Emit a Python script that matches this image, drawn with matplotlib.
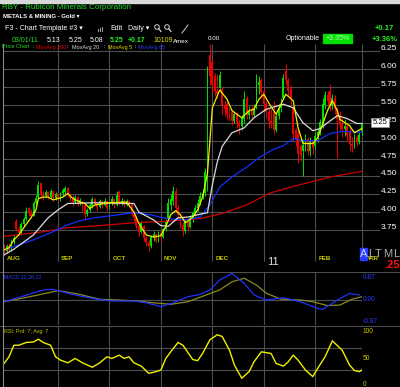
import numpy as np
import matplotlib
matplotlib.use('Agg')
import matplotlib.pyplot as plt
from matplotlib.patches import Rectangle, Circle
from matplotlib.lines import Line2D
from matplotlib.transforms import IdentityTransform

plt.rcParams['font.family'] = ['Liberation Sans', 'DejaVu Sans']

# daily bars, index 0 = first Aug 2010 session, 146 = 03/01/11
opens = [3.50, 3.45, 3.52, 3.47, 3.58, 3.88, 3.76, 3.70, 3.83, 3.90,
         4.05, 3.98, 3.95, 4.12, 4.21, 4.40, 4.24, 4.22, 4.28, 4.21,
         4.29, 4.19, 4.25, 4.18, 4.26, 4.28, 4.34, 4.25, 4.19, 4.14,
         4.21, 4.12, 4.15, 4.10, 3.97, 4.03, 4.08, 4.18, 4.11, 4.07,
         4.15, 4.10, 4.15, 4.06, 4.13, 4.18, 4.10, 4.28, 4.13, 4.16,
         4.10, 4.15, 4.12, 4.00, 3.92, 3.80, 3.72, 3.80, 3.63, 3.57,
         3.52, 3.65, 3.69, 3.60, 3.70, 3.65, 3.76, 3.90, 4.10, 4.15,
         4.30, 4.06, 3.96, 3.82, 3.73, 3.86, 3.79, 3.91, 3.98, 4.06,
         4.13, 4.22, 4.27, 4.56, 6.20, 6.10, 5.90, 5.70, 5.74, 5.72,
         5.48, 5.52, 5.38, 5.40, 5.28, 5.38, 5.25, 5.20, 5.30, 5.60,
         5.36, 5.45, 5.36, 5.46, 5.78, 5.85, 5.70, 5.52, 5.40, 5.28,
         5.40, 5.15, 5.35, 5.46, 5.60, 5.98, 5.85, 5.72, 5.46, 5.15,
         5.10, 4.92, 4.86, 4.94, 5.02, 4.86, 4.98, 4.92, 5.06, 5.12,
         5.22, 5.50, 5.64, 5.70, 5.48, 5.60, 5.44, 5.36, 5.25, 5.16,
         5.20, 5.12, 4.96, 4.92, 5.05, 4.98, 5.13]
highs = [3.55, 3.55, 3.56, 3.62, 3.68, 3.90, 3.80, 3.86, 3.93, 4.07,
         4.07, 4.04, 4.15, 4.24, 4.43, 4.42, 4.30, 4.31, 4.30, 4.32,
         4.30, 4.28, 4.27, 4.28, 4.33, 4.37, 4.35, 4.27, 4.24, 4.24,
         4.22, 4.20, 4.16, 4.12, 4.06, 4.13, 4.21, 4.20, 4.14, 4.18,
         4.17, 4.19, 4.16, 4.16, 4.22, 4.20, 4.30, 4.31, 4.19, 4.18,
         4.18, 4.17, 4.13, 4.02, 3.95, 3.84, 3.88, 3.82, 3.66, 3.62,
         3.68, 3.74, 3.71, 3.73, 3.73, 3.78, 3.90, 4.20, 4.25, 4.37,
         4.33, 4.10, 3.99, 3.86, 3.90, 3.90, 3.95, 4.02, 4.10, 4.18,
         4.28, 4.32, 4.62, 6.05, 6.35, 6.15, 5.95, 5.93, 5.97, 5.75,
         5.56, 5.55, 5.46, 5.44, 5.42, 5.40, 5.30, 5.36, 5.69, 5.62,
         5.48, 5.50, 5.52, 5.93, 5.90, 5.88, 5.72, 5.55, 5.46, 5.45,
         5.56, 5.40, 5.52, 5.60, 5.94, 6.07, 5.88, 5.78, 5.48, 5.18,
         5.18, 4.96, 5.02, 5.10, 5.05, 5.05, 5.02, 5.12, 5.16, 5.30,
         5.60, 5.70, 5.70, 5.79, 5.66, 5.64, 5.47, 5.42, 5.32, 5.30,
         5.22, 5.18, 5.05, 5.10, 5.08, 5.12, 5.25]
lows = [3.40, 3.42, 3.44, 3.46, 3.55, 3.74, 3.66, 3.68, 3.80, 3.88,
        3.95, 3.92, 3.94, 4.08, 4.20, 4.20, 4.17, 4.20, 4.18, 4.19,
        4.16, 4.17, 4.15, 4.16, 4.22, 4.25, 4.22, 4.15, 4.08, 4.12,
        4.08, 4.10, 4.02, 3.89, 3.95, 4.00, 4.05, 4.08, 4.02, 4.05,
        4.06, 4.08, 4.02, 4.04, 4.10, 4.06, 4.08, 4.10, 4.10, 4.07,
        4.08, 4.08, 3.95, 3.88, 3.76, 3.66, 3.70, 3.60, 3.52, 3.45,
        3.50, 3.60, 3.56, 3.58, 3.60, 3.63, 3.74, 3.88, 4.03, 4.10,
        4.02, 3.92, 3.78, 3.67, 3.70, 3.74, 3.77, 3.86, 3.95, 4.02,
        4.10, 4.18, 4.22, 4.30, 5.78, 5.68, 5.62, 5.60, 5.72, 5.37,
        5.35, 5.30, 5.28, 5.22, 5.25, 5.18, 5.10, 5.15, 5.25, 5.30,
        5.30, 5.30, 5.33, 5.44, 5.66, 5.60, 5.45, 5.32, 5.18, 5.18,
        5.10, 5.12, 5.30, 5.40, 5.58, 5.80, 5.62, 5.50, 5.00, 4.92,
        4.68, 4.72, 4.51, 4.85, 4.80, 4.78, 4.82, 4.88, 4.98, 5.08,
        5.18, 5.45, 5.48, 5.42, 5.44, 5.38, 4.76, 5.15, 5.05, 5.06,
        5.00, 4.86, 4.84, 4.90, 4.92, 4.95, 5.08]
closes = [3.45, 3.52, 3.47, 3.58, 3.64, 3.76, 3.70, 3.83, 3.90, 4.02,
          3.98, 3.95, 4.12, 4.20, 4.38, 4.24, 4.22, 4.28, 4.21, 4.29,
          4.19, 4.25, 4.18, 4.26, 4.31, 4.34, 4.25, 4.19, 4.14, 4.21,
          4.12, 4.17, 4.06, 3.97, 4.03, 4.10, 4.18, 4.11, 4.07, 4.15,
          4.10, 4.15, 4.06, 4.13, 4.18, 4.10, 4.24, 4.13, 4.16, 4.10,
          4.15, 4.12, 4.00, 3.92, 3.80, 3.72, 3.84, 3.63, 3.57, 3.52,
          3.65, 3.69, 3.60, 3.70, 3.65, 3.76, 3.86, 4.12, 4.18, 4.30,
          4.06, 3.96, 3.82, 3.73, 3.86, 3.79, 3.91, 3.98, 4.06, 4.13,
          4.22, 4.27, 4.56, 6.00, 5.90, 5.78, 5.70, 5.66, 5.92, 5.48,
          5.45, 5.38, 5.34, 5.28, 5.38, 5.25, 5.20, 5.32, 5.58, 5.36,
          5.42, 5.36, 5.46, 5.78, 5.82, 5.68, 5.52, 5.40, 5.28, 5.25,
          5.15, 5.35, 5.46, 5.52, 5.88, 5.85, 5.70, 5.58, 5.10, 5.02,
          4.82, 4.80, 4.94, 5.02, 4.86, 4.98, 4.90, 5.06, 5.12, 5.26,
          5.52, 5.64, 5.55, 5.48, 5.60, 5.44, 5.30, 5.22, 5.16, 5.20,
          5.08, 4.96, 4.92, 5.05, 4.98, 5.08, 5.25]

month_idx = [0, 22, 43, 64, 85, 106, 127, 146]
month_lbl = ['AUG', 'SEP', 'OCT', 'NOV', 'DEC', '11', 'FEB', 'MAR']

# moving averages (day index, price)
ma5_idx = [0, 2, 4, 6, 8, 11, 13, 14, 16, 18, 20, 22, 24, 26, 28, 31, 33, 35, 37, 43,
           50, 53, 55, 58, 61, 64, 66, 68, 70, 72, 74, 77, 79, 81, 83, 84, 85, 88, 91, 93,
           97, 100, 102, 104, 106, 108, 111, 115, 118, 120, 122, 126, 128, 132, 134, 136, 137, 141, 143, 146]
ma5 = [3.47, 3.50, 3.61, 3.68, 3.78, 3.92, 4.03, 4.19, 4.21, 4.21, 4.17, 4.19, 4.21, 4.26, 4.19, 4.14, 4.12, 4.05, 4.10, 4.13,
       4.14, 4.00, 3.84, 3.68, 3.65, 3.67, 3.80, 3.96, 4.02, 3.96, 3.85, 3.93, 4.03, 4.21, 4.54, 5.00, 5.46, 5.71, 5.58, 5.42,
       5.32, 5.42, 5.44, 5.58, 5.65, 5.53, 5.37, 5.65, 5.56, 5.18, 4.96, 4.96, 5.04, 5.42, 5.56, 5.42, 5.30, 5.21, 5.11, 5.17]
ma20_idx = [0, 4, 12, 18, 22, 26, 37, 53, 55, 61, 64, 67, 71, 75, 80, 83, 85, 87, 89, 93,
            98, 102, 107, 109, 114, 118, 122, 126, 129, 132, 136, 140, 144, 146]
ma20 = [3.40, 3.48, 3.68, 3.92, 4.03, 4.12, 4.13, 4.12, 4.00, 3.89, 3.81, 3.80, 3.92, 3.93, 3.97, 3.99, 4.38, 4.70, 4.92, 5.11,
        5.18, 5.32, 5.44, 5.46, 5.51, 5.46, 5.25, 5.14, 5.17, 5.25, 5.35, 5.31, 5.24, 5.24]
ma65_idx = [0, 6, 12, 19, 26, 31, 37, 53, 60, 66, 74, 80, 84, 88, 93, 99, 104, 110, 114, 118, 122, 128, 133, 138, 146]
ma65 = [3.47, 3.54, 3.61, 3.71, 3.82, 3.88, 3.92, 3.99, 3.96, 3.91, 3.89, 3.93, 4.10, 4.35, 4.49, 4.63, 4.76, 4.88, 4.93, 5.03,
        5.00, 5.00, 5.10, 5.13, 5.12]
ma200_idx = [0, 15, 26, 39, 53, 66, 80, 89, 99, 108, 117, 125, 133, 141, 146]
ma200 = [3.66, 3.72, 3.78, 3.81, 3.85, 3.87, 3.91, 3.98, 4.10, 4.26, 4.35, 4.42, 4.49, 4.54, 4.57]

macd_idx = [0, 7, 16, 20, 26, 31, 38, 44, 53, 58, 64, 69, 75, 80, 84, 88, 93, 98, 102, 107,
            114, 121, 128, 130, 136, 141, 145]
macd = [-0.09, 0.11, 0.38, 0.40, 0.25, 0.14, 0.01, -0.06, -0.06, -0.13, -0.28, -0.13, 0.11, 0.20, 0.38, 0.77, 1.03, 0.64, 0.18, -0.02,
        0.07, -0.09, -0.35, -0.39, -0.02, 0.24, 0.18]
sig_idx = [0, 12, 22, 30, 39, 53, 61, 68, 75, 80, 88, 93, 98, 103, 107, 113, 121, 126, 132, 137, 142, 146]
sig = [-0.09, 0.14, 0.35, 0.22, 0.01, -0.05, -0.13, -0.19, -0.09, 0.09, 0.38, 0.70, 0.84, 0.57, 0.25, 0.01, -0.02, -0.09, -0.24, -0.22,
       0.01, 0.11]

rsi_idx = [0, 2, 4, 6, 9, 12, 14, 16, 19, 21, 23, 26, 29, 32, 36, 39, 42, 44, 47, 49,
           51, 53, 56, 59, 62, 64, 66, 68, 71, 73, 77, 79, 81, 84, 87, 89, 92, 94, 97, 100,
           102, 105, 109, 111, 114, 116, 118, 120, 123, 126, 128, 131, 134, 138, 141, 143, 145, 146]
rsi = [42, 54, 75, 75, 80, 81, 86, 80, 75, 54, 48, 43, 51, 43, 35, 43, 54, 51, 57, 51,
       54, 43, 37, 24, 27, 30, 51, 63, 80, 75, 49, 47, 60, 85, 94, 91, 66, 39, 15, 27,
       45, 63, 60, 42, 37, 45, 57, 48, 30, 18, 33, 54, 83, 66, 39, 29, 27, 30]

price_ticks = [6.25, 6.00, 5.75, 5.50, 5.25, 5.00, 4.75, 4.50, 4.25, 4.00, 3.75]
macd_ticks = [0.87, 0.00, -0.87]
rsi_ticks = [100, 50, 0]

W, H = 400, 387
GRID = '#4e4e4e'
GREEN = '#00dd00'
RED = '#ee0000'

fig = plt.figure(figsize=(W / 100, H / 100), dpi=100, facecolor='black')


def fx(x):
    return x / W


def fy(y):
    return 1 - y / H


def box(x0, y0, x1, y1):
    return [fx(x0), fy(y1), (x1 - x0) / W, (y1 - y0) / H]


def label(x, y, s, color='white', size=5, **kw):
    kw.setdefault('ha', 'left')
    kw.setdefault('va', 'center')
    fig.text(fx(x), fy(y), s, color=color, fontsize=size, **kw)


# pixel -> data helpers for the screenshot layout
def day_at(x):
    return (x - 4.1) / 2.45


def price_at(y):
    return 6.25 - (y - 51.4) / 71.4


def macd_at(y):
    return (299.5 - y) * 0.87 / 22


def rsi_at(y):
    return (386.5 - y) / 0.55


# ---- price panel
ax = fig.add_axes(box(3, 42, 380, 271))
ax.set_facecolor('black')
ax.axis('off')
ax.set_xlim(day_at(3), day_at(380))
ax.set_ylim(price_at(271), price_at(42))
ax.hlines(price_ticks, day_at(3), day_at(380), color=GRID, lw=0.8, zorder=0)
ax.vlines(month_idx[1:], price_at(261), price_at(44), color=GRID, lw=0.8, zorder=0)

o, hi, lo, c = (np.array(a) for a in (opens, highs, lows, closes))
days = np.arange(len(c))
cols = np.where(c >= o, GREEN, RED)
ax.vlines(days, lo, hi, colors=cols, lw=0.7, zorder=2)
ax.bar(days, np.maximum(np.abs(c - o), 0.012), bottom=np.minimum(o, c), width=0.75,
       color=cols, linewidth=0, zorder=2)

ax.plot(ma200_idx, ma200, color='#d00000', lw=0.9, zorder=3)
ax.plot(ma65_idx, ma65, color='#1030ff', lw=0.9, zorder=3)
ax.plot(ma20_idx, ma20, color='#dcdcdc', lw=0.9, zorder=3)
ax.plot(ma5_idx, ma5, color='#f0f000', lw=0.9, zorder=4)

for i, s in zip(month_idx, month_lbl):
    if s == '11':
        ax.text(i + 1.5, price_at(262), s, color='#d5e2ef', fontsize=8, va='center')
    else:
        ax.text(i + 1.2, price_at(258), s, color='#cccc00', fontsize=4.5,
                fontweight='bold', va='center')

for v in price_ticks:
    ax.text(day_at(397), v + 0.035, f'{v:.2f}', color='white', fontsize=6,
            ha='right', va='center', clip_on=False)
ax.text(day_at(380), c[-1], f'{c[-1]:.2f}', color='black', fontsize=5.5, ha='center',
        va='center', clip_on=False,
        bbox=dict(facecolor='white', edgecolor='#999999', lw=0.4, pad=0.8))

# ---- MACD panel
ax2 = fig.add_axes(box(3, 272, 362, 325))
ax2.axis('off')
ax2.set_xlim(day_at(3), day_at(362))
ax2.set_ylim(macd_at(325), macd_at(272))
ax2.axhline(0, color=GRID, lw=0.8, zorder=0)
ax2.vlines(month_idx[1:], macd_at(325), macd_at(272), color=GRID, lw=0.8, zorder=0)
ax2.plot(sig_idx, sig, color='#8a8a20', lw=0.9)
ax2.plot(macd_idx, macd, color='#2030ff', lw=0.9)
for v in macd_ticks:
    ax2.text(day_at(363), v, f'{v:.2f}', color='#2a3cff', fontsize=4.8, va='center',
             clip_on=False)
label(4, 277, 'MACD 12,26,12', color='#2a3cff', size=3.8)

# ---- RSI panel
ax3 = fig.add_axes(box(3, 326, 362, 387))
ax3.axis('off')
ax3.set_xlim(day_at(3), day_at(362))
ax3.set_ylim(rsi_at(387), rsi_at(326))
ax3.hlines([70, 30], day_at(3), day_at(362), color=GRID, lw=0.8, zorder=0)
ax3.vlines(month_idx[1:], rsi_at(387), rsi_at(326), color=GRID, lw=0.8, zorder=0)
ax3.plot(rsi_idx, rsi, color='#f0f000', lw=1.0)
for v in rsi_ticks:
    ax3.text(day_at(363), max(v, 4), str(v), color='#c8c800', fontsize=4.8, va='center',
             clip_on=False)
label(4, 331.5, 'RSI: Prd: 7; Avg: 7', color='#c8c800', size=3.9)

# ---- frame lines
for yy in (271.5, 325.5):
    fig.add_artist(Line2D([0, 1], [fy(yy)] * 2, color=GRID, lw=0.8))
fig.add_artist(Line2D([fx(3)] * 2, [fy(44), 0], color='#8a8a8a', lw=0.8))
fig.add_artist(Rectangle((0, fy(3)), 1, 3 / H, transform=fig.transFigure,
                         color='#d8d8d8'))

# ---- header
label(2, 7.5, 'RBY - Rubicon Minerals Corporation', color='#22dd22', size=5.8)
label(3, 17, 'METALS & MINING - Gold \u25be', size=4.3, fontweight='bold')
label(5, 28.5, 'F3 - Chart Template #3 \u25be', size=5)
for k, hgt in enumerate((2, 3, 4)):
    fig.add_artist(Line2D([fx(98 + 2 * k)] * 2, [fy(31), fy(31 - hgt)], color='#909090', lw=0.8))
label(110, 28.5, 'Edit', size=5)
label(128, 28.5, 'Daily \u25be', size=5)
for cx in (157, 167):
    fig.add_artist(Circle((cx, H - 27), 2.3, transform=IdentityTransform(), fill=False,
                          edgecolor='#d0d0d0', lw=0.7))
    fig.add_artist(Line2D([cx + 1.7, cx + 4], [H - 28.7, H - 31.5], transform=IdentityTransform(),
                          color='#d0d0d0', lw=0.9))
fig.add_artist(Line2D([182, 188], [H - 33, H - 25], transform=IdentityTransform(),
                      color='#d0d0d0', lw=0.7))

label(12, 40, '03/01/11', color='#22dd22', size=5)
label(47, 40, f'{o[-1]:.2f}', size=5)
label(69, 40, f'{hi[-1]:.2f}', size=5)
label(90, 40, f'{lo[-1]:.2f}', size=5)
label(110, 40, f'{c[-1]:.2f}', color='#22ee22', size=5, fontweight='bold')
label(128, 40, f'{c[-1] - c[-2]:+.2f}', color='#22ee22', size=5, fontweight='bold')
label(153, 40, '10109', color='#dddd00', size=5)
label(173, 41.5, 'Amex', size=4.5)
label(208, 38, '0.00', size=4.5)
label(286, 38, 'Optionable', size=5)
fig.add_artist(Rectangle((fx(323), fy(43)), 29 / W, 9 / H, transform=fig.transFigure,
                         color='#00e000'))
label(337.5, 38.5, '+3.35%', color='#b8ffb8', size=5, ha='center')
label(394, 29, '+0.17', color='#22ee22', size=5.5, fontweight='bold', ha='right')
label(398, 39.5, '+3.36%', color='#22ee22', size=5.5, fontweight='bold', ha='right')

legend_parts = [(2, 'Price Chart', '#22dd22'), (33, ':', 'white'), (36, 'MovAvg 200', '#ee0000'),
                (67, ':', 'white'), (72, 'MovAvg 20', '#d8d8d8'), (104, ':', 'white'),
                (108, 'MovAvg 5', '#dddd00'), (135, ':', 'white'), (138, 'MovAvg 65', '#2a3cff')]
for xx, s, col in legend_parts:
    label(xx, 47, s, color=col, size=3.9)

# bottom-right corner widgets
fig.add_artist(Rectangle((fx(359.5), fy(260)), 7 / W, 12 / H, transform=fig.transFigure,
                         color='#2a3cff', zorder=5))
label(359.8, 254, 'A', color='#c8d0ff', size=8, zorder=6)
for xx, ch in ((368, 'L'), (375, 'T'), (383, 'M'), (393, 'L')):
    label(xx, 254, ch, color='#b0b0b0', size=8)
label(400, 265, '.25', color='#ff1010', size=8, fontweight='bold', ha='right')

fig.savefig('out.png', dpi=100, facecolor='black')
